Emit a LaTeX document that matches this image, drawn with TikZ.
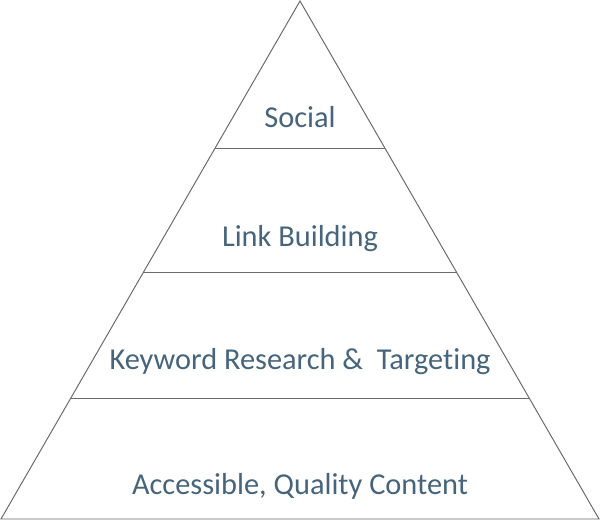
\documentclass[tikz,border=0pt]{standalone}
\usepackage{fontspec}
\setmainfont[Ligatures=NoCommon]{Carlito}
\usetikzlibrary{positioning,calc}
\definecolor{edgegray}{HTML}{6A6A6A}
\definecolor{labelblue}{HTML}{46647B}
\tikzset{
  level/.style={draw=edgegray, line width=0.7pt},
  tier/.style={text=labelblue, font=\fontsize{21.6}{26}\selectfont, anchor=base, inner sep=0pt},
}
\frenchspacing

\begin{document}
\begin{tikzpicture}[x=0.025cm, y=-0.025cm]
\useasboundingbox (0,0) rectangle (600,520);

\coordinate (apex) at (300,1);
\coordinate (left) at (1,519);
\coordinate (right) at (599,519);

% outline
\draw[level, line join=miter] (apex) -- (left) -- (right) -- cycle;

% tier borders
\coordinate (L1-l) at ($(apex)!0.2838!(left)$);
\coordinate (L1-r) at ($(apex)!0.2838!(right)$);
\coordinate (L2-l) at ($(apex)!0.525!(left)$);
\coordinate (L2-r) at ($(apex)!0.525!(right)$);
\coordinate (L3-l) at ($(apex)!0.768!(left)$);
\coordinate (L3-r) at ($(apex)!0.768!(right)$);

\draw[level] (L1-l) -- (L1-r) (L2-l) -- (L2-r) (L3-l) -- (L3-r);

% labels
\node[tier] (T1) at (300,127) {Social};
\node[tier] (T2) at (300,246) {Link Building};
\node[tier] (T3) at (300,369) {Keyword Research \&\ \ Targeting};
\node[tier] (T4) at (300,494) {Accessible, Quality Content};
\end{tikzpicture}
\end{document}
